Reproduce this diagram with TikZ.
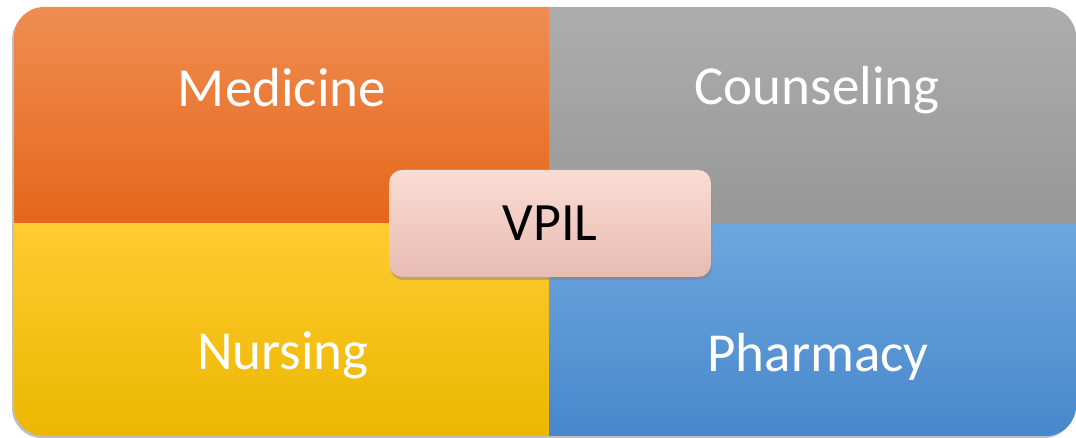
\documentclass[tikz,border=0pt]{standalone}
\usepackage{fontspec}
\setmainfont{Carlito}
\usetikzlibrary{shadows}
\definecolor{orT}{HTML}{F08D52}
\definecolor{orB}{HTML}{E5661A}
\definecolor{grT}{HTML}{ADADAD}
\definecolor{grB}{HTML}{979797}
\definecolor{yeT}{HTML}{FFCB31}
\definecolor{yeB}{HTML}{EBB700}
\definecolor{blT}{HTML}{6EA7DE}
\definecolor{blB}{HTML}{4787CC}
\definecolor{pkT}{HTML}{FADCD3}
\definecolor{pkB}{HTML}{E7BCB2}
\tikzset{
  quadlabel/.style={text=white,font=\fontsize{55}{60}\selectfont,inner sep=0pt},
  centerbox/.style={rounded corners=13pt,top color=pkT,bottom color=pkB,
    drop shadow={shadow xshift=1pt,shadow yshift=-3pt,opacity=0.45},
    minimum width=322pt,minimum height=107pt,inner sep=0pt,
    font=\fontsize{54}{58}\selectfont,text=black}
}
\begin{document}
\begin{tikzpicture}[x=1pt,y=1pt]
\useasboundingbox (0,0) rectangle (1076,438);
% shadow of the main panel
\fill[black!25,rounded corners=30pt] (12,0) rectangle (1074,428);
\begin{scope}
\clip[rounded corners=30pt] (14,2) rectangle (1076,431);
\shade[top color=orT,bottom color=orB] (14,214) rectangle (549,431);
\shade[top color=grT,bottom color=grB] (549,214) rectangle (1076,431);
\shade[top color=yeT,bottom color=yeB] (14,2) rectangle (549,214);
\shade[top color=blT,bottom color=blB] (549,2) rectangle (1076,214);
\end{scope}
\node[quadlabel] (med) at (282,350) {Medicine};
\node[quadlabel] (cou) at (817,348) {Counseling};
\node[quadlabel] (nur) at (283,83) {Nursing};
\node[quadlabel] (pha) at (818,81) {Pharmacy};
\node[centerbox] (vpil) at (550,214.5) {VPIL};
\end{tikzpicture}
\end{document}
